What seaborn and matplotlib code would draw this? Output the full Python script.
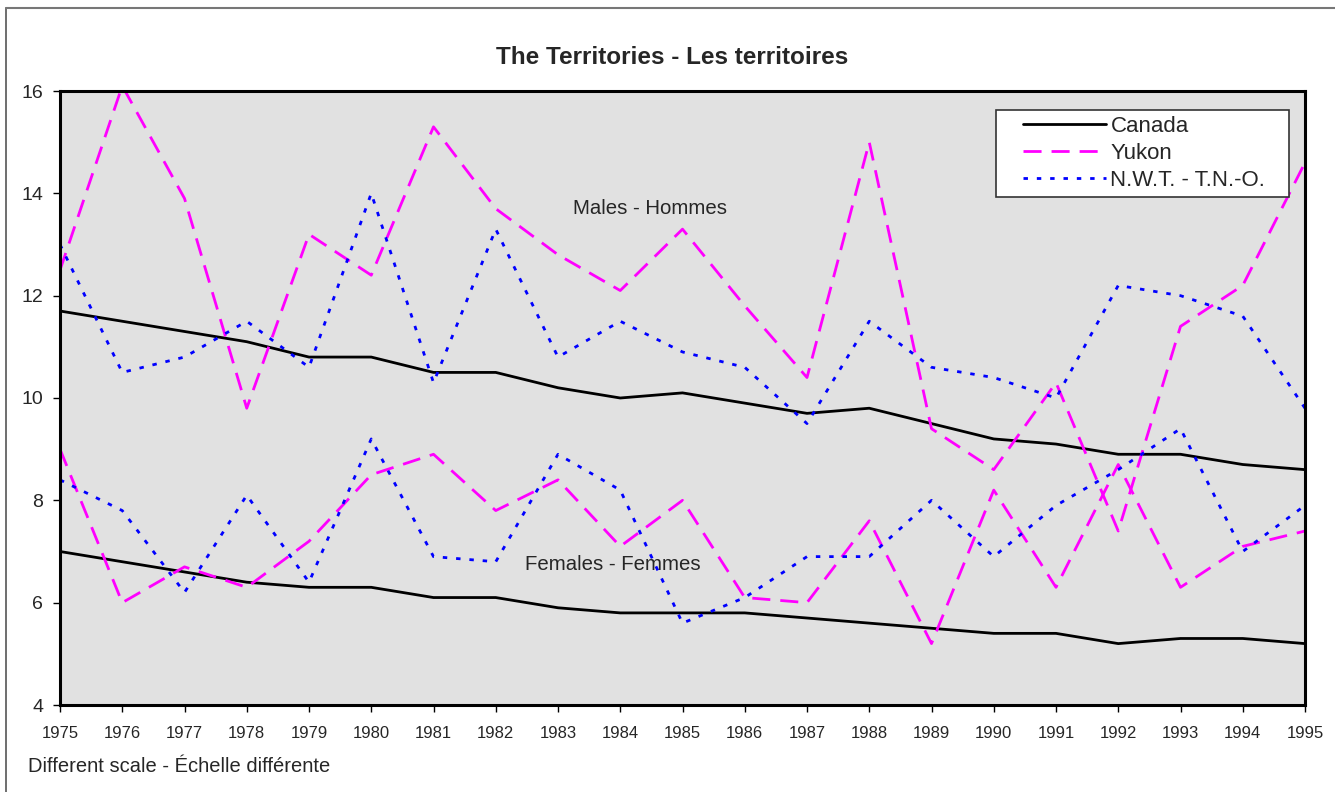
import numpy as np
import pandas as pd
import matplotlib
matplotlib.use("Agg")
import matplotlib.pyplot as plt
from matplotlib.lines import Line2D
from matplotlib.legend_handler import HandlerLine2D
import seaborn as sns

sns.set_style("white")
plt.rcParams["font.family"] = ["Liberation Sans", "DejaVu Sans"]

years = list(range(1975, 1996))

# males - hommes
canada_m = [11.7, 11.5, 11.3, 11.1, 10.8, 10.8, 10.5, 10.5, 10.2, 10.0, 10.1,
            9.9, 9.7, 9.8, 9.5, 9.2, 9.1, 8.9, 8.9, 8.7, 8.6]
yukon_m = [12.5, 16.1, 13.9, 9.8, 13.2, 12.4, 15.3, 13.7, 12.8, 12.1, 13.3,
           11.8, 10.4, 15.0, 9.4, 8.6, 10.3, 7.4, 11.4, 12.2, 14.6]
nwt_m = [13.0, 10.5, 10.8, 11.5, 10.6, 14.0, 10.3, 13.3, 10.8, 11.5, 10.9,
         10.6, 9.5, 11.5, 10.6, 10.4, 10.0, 12.2, 12.0, 11.6, 9.8]

# females - femmes
canada_f = [7.0, 6.8, 6.6, 6.4, 6.3, 6.3, 6.1, 6.1, 5.9, 5.8, 5.8,
            5.8, 5.7, 5.6, 5.5, 5.4, 5.4, 5.2, 5.3, 5.3, 5.2]
yukon_f = [9.0, 6.0, 6.7, 6.3, 7.2, 8.5, 8.9, 7.8, 8.4, 7.1, 8.0,
           6.1, 6.0, 7.6, 5.2, 8.2, 6.3, 8.7, 6.3, 7.1, 7.4]
nwt_f = [8.4, 7.8, 6.2, 8.1, 6.4, 9.2, 6.9, 6.8, 8.9, 8.2, 5.6,
         6.1, 6.9, 6.9, 8.0, 6.9, 7.9, 8.6, 9.4, 7.0, 7.9]

series_names = ["Canada", "Yukon", "N.W.T. - T.N.-O."]
colors = {"Canada": "black", "Yukon": "#FF00FF", "N.W.T. - T.N.-O.": "#0000FF"}
dashes = {"Canada": None, "Yukon": (6.5, 3.6), "N.W.T. - T.N.-O.": (1.6, 3.2)}


class LeadHandler(HandlerLine2D):
    # legend line that starts a bit inside the handle box, like the Excel legend
    def __init__(self, lead=0.2, **kw):
        super().__init__(**kw)
        self.lead = lead

    def get_xdata(self, legend, xdescent, ydescent, width, height, fontsize):
        xdata, xm = super().get_xdata(legend, xdescent, ydescent, width, height, fontsize)
        xdata = np.linspace(-xdescent + self.lead * width, -xdescent + width, len(xdata))
        return xdata, xm


fig = plt.figure(figsize=(13.35, 7.92), dpi=100)
ax = fig.add_axes([60 / 1335, 87 / 792, 1245 / 1335, 614 / 792])
ax.set_facecolor("#E1E1E1")

lw = 2.0
data = {
    "Canada": [canada_m, canada_f],
    "Yukon": [yukon_m, yukon_f],
    "N.W.T. - T.N.-O.": [nwt_m, nwt_f],
}
for name in series_names:
    for vals in data[name]:
        sns.lineplot(x=years, y=vals, ax=ax, color=colors[name], linewidth=lw)
        ln = ax.lines[-1]
        if dashes[name] is not None:
            ln.set_dashes(dashes[name])

ax.set_xlim(1975, 1995)
ax.set_ylim(4, 16)
ax.set_xticks(years)
ax.set_yticks([4, 6, 8, 10, 12, 14, 16])
ax.tick_params(axis="both", direction="out", length=5, width=1, color="black",
               left=True, bottom=True)
ax.tick_params(axis="y", labelsize=14, pad=7)
ax.tick_params(axis="x", labelsize=12, pad=10)
for lab in ax.get_xticklabels():
    lab.set_family(["Liberation Sans Narrow", "Liberation Sans", "DejaVu Sans"])
for side in ["left", "bottom", "top", "right"]:
    ax.spines[side].set_visible(True)
    ax.spines[side].set_color("black")
    ax.spines[side].set_linewidth(2.2)
ax.set_xlabel("")
ax.set_ylabel("")

ax.text(1984.48, 13.71, "Males - Hommes", ha="center", va="center", fontsize=14.7)
ax.text(1983.88, 6.74, "Females - Femmes", ha="center", va="center", fontsize=14.7)

handles = []
for name in series_names:
    h = Line2D([], [], color=colors[name], linewidth=lw)
    if dashes[name] is not None:
        h.set_dashes(dashes[name])
    handles.append(h)
leg = ax.legend(handles, series_names, loc="upper left",
                bbox_to_anchor=(0.7518, 0.969 - 0.14, 0.2353, 0.14), mode="expand",
                fontsize=16, frameon=True, fancybox=False, handlelength=4.7,
                handletextpad=0.2, borderpad=0.25, labelspacing=0.28,
                borderaxespad=0,
                handler_map={Line2D: LeadHandler(lead=0.207)})
leg.get_frame().set_edgecolor("#333333")
leg.get_frame().set_linewidth(1.2)
leg.get_frame().set_facecolor("white")
leg.get_frame().set_alpha(1)

fig.text(672 / 1335, 1 - 57 / 792, "The Territories - Les territoires",
         ha="center", va="center", fontsize=17.5, fontweight="bold")
fig.text(28 / 1335, 1 - 766 / 792, "Different scale - \u00c9chelle diff\u00e9rente",
         ha="left", va="center", fontsize=14.5)

# outer frame (top and left edges visible)
fig.add_artist(Line2D([6 / 1335, 6 / 1335], [0, 1 - 8 / 792], transform=fig.transFigure,
                      color="#555555", linewidth=1.2))
fig.add_artist(Line2D([6 / 1335, 1], [1 - 8 / 792, 1 - 8 / 792], transform=fig.transFigure,
                      color="#777777", linewidth=1.5))

fig.savefig("out.png", dpi=100, facecolor="white")
